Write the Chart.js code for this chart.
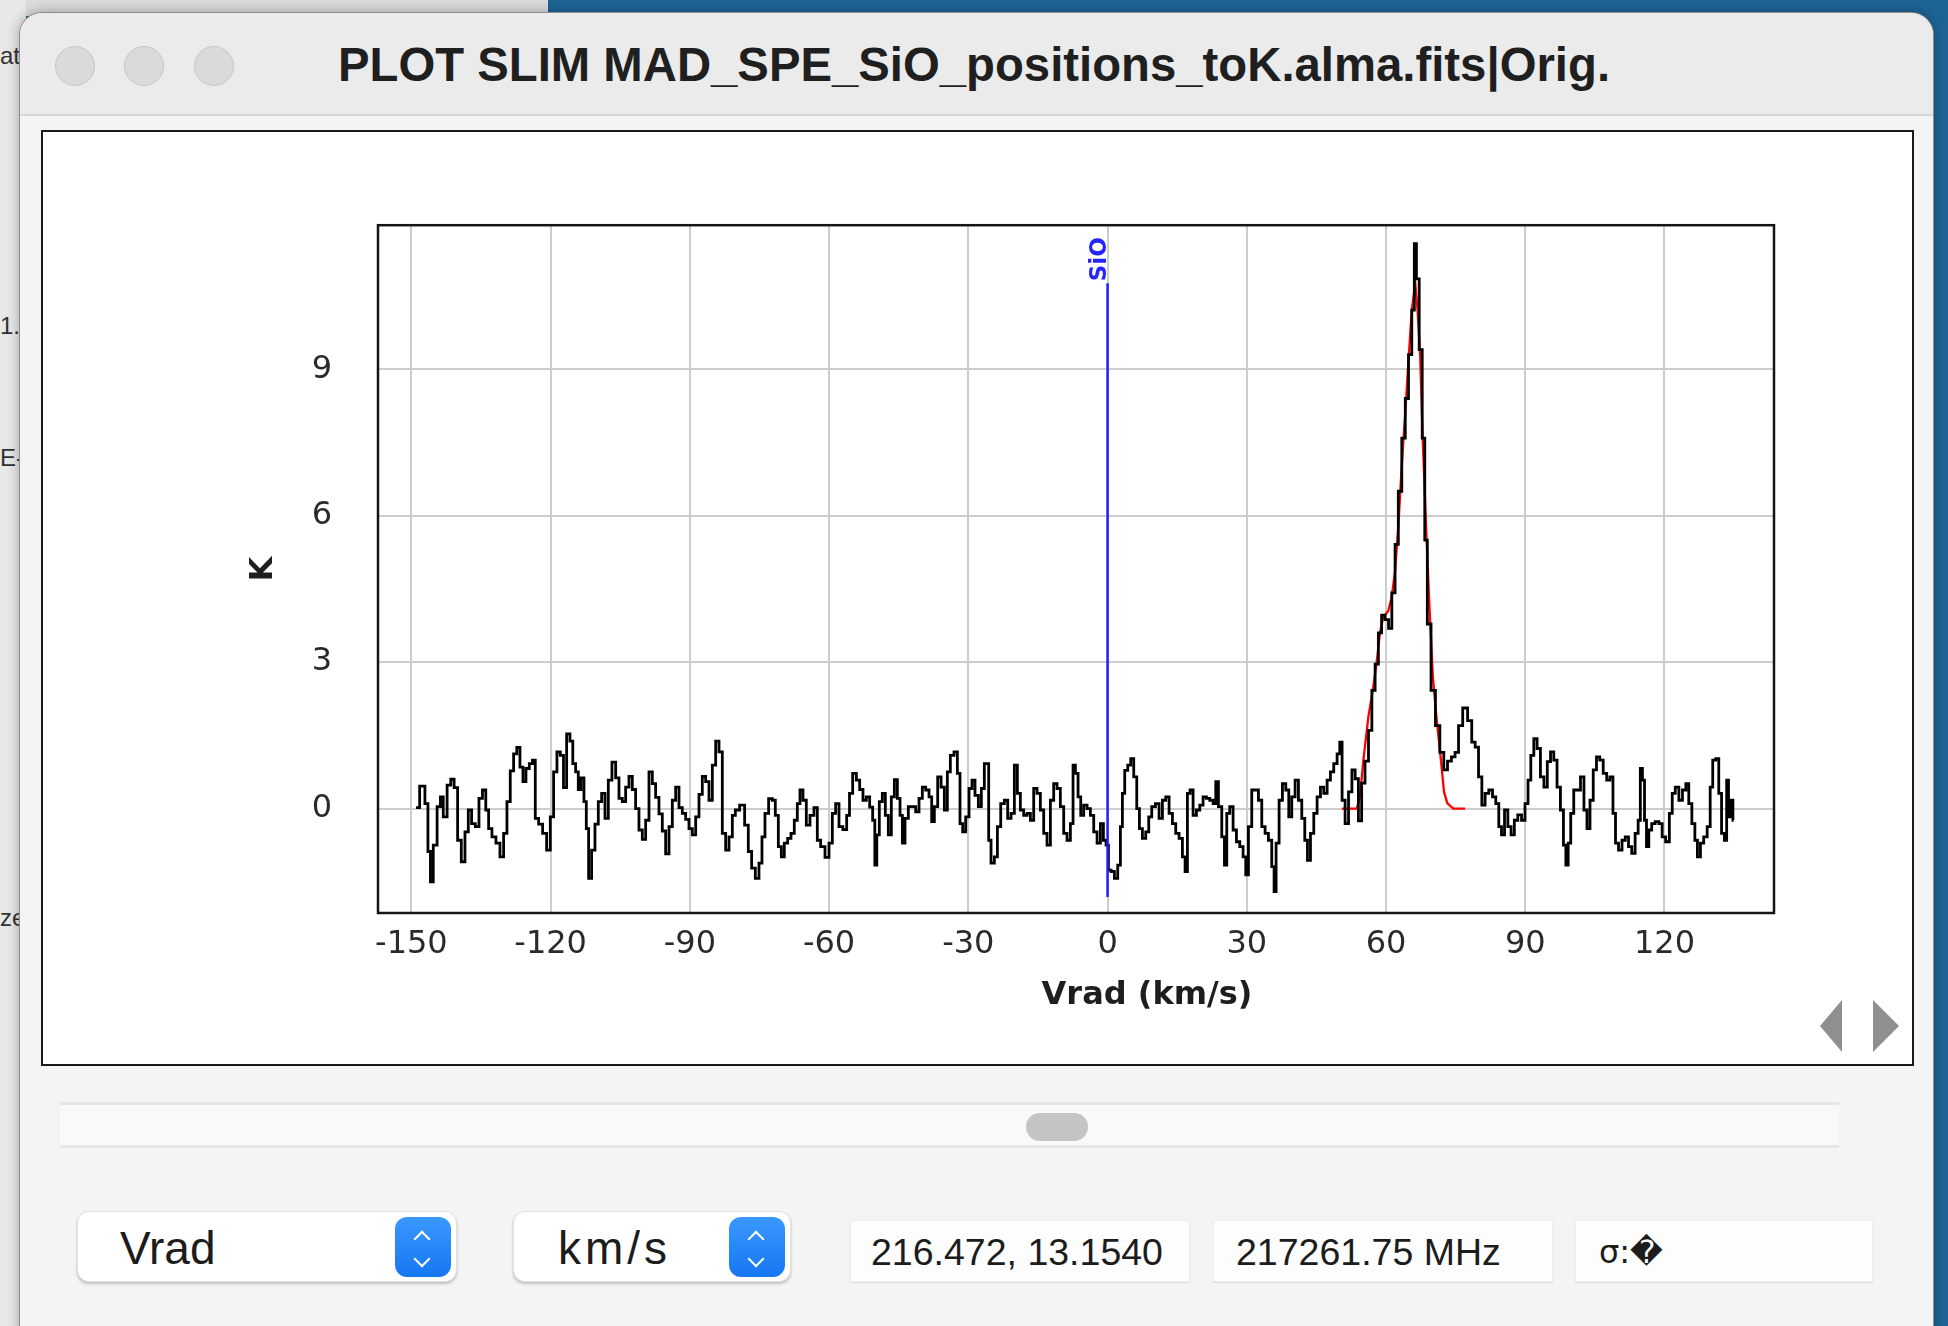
<!DOCTYPE html>
<html>
<head>
<meta charset="utf-8">
<title>PLOT SLIM MAD_SPE_SiO_positions_toK.alma.fits|Orig.</title>
<script src="https://cdn.jsdelivr.net/npm/chart.js@4.4.1/dist/chart.umd.min.js"></script>
<style>
  html, body { margin: 0; padding: 0; }
  body { width: 1948px; height: 1326px; overflow: hidden; position: relative; background: #1d6597; font-family: 'Liberation Sans', Arial, sans-serif; }
  .abs { position: absolute; box-sizing: border-box; }
  #deskTop { left: 0; top: 0; width: 548px; height: 16px; background: #dcdcdc; }
  #behind { left: 0; top: 0; width: 26px; height: 1326px; background: #e8e8e8; overflow: hidden; color: #333; font-size: 24px; }
  #behind span { position: absolute; left: 0; white-space: nowrap; }
  #win { left: 20px; top: 13px; width: 1913px; height: 1345px; background: #f4f4f4; border-radius: 22px; box-shadow: 0 0 0 1px #8d8d8d, 0 0 14px rgba(0,0,0,0.35); overflow: hidden; }
  #titlebar { left: 0; top: 0; width: 1913px; height: 103px; background: #ebebeb; border-bottom: 2px solid #d7d7d7; }
  .light { width: 40px; height: 40px; top: 46px; border-radius: 50%; background: #dadada; border: 1px solid #c6c6c6; }
  #title { left: 0; top: 42px; width: 1948px; text-align: center; font-weight: bold; font-size: 47.3px; line-height: 46px; color: #1f1f1f; white-space: nowrap; }
  #panel { left: 41px; top: 130px; width: 1873px; height: 936px; background: #fff; border: 2.5px solid #1a1a1a; }
  #plot { left: 180px; top: 160px; }
  #xTitle { left: 947px; width: 400px; top: 977px; text-align: center; font-family: 'DejaVu Sans', sans-serif; font-weight: bold; font-size: 32px; line-height: 32px; color: #1e1e1e; white-space: nowrap; }
  .arrowL { left: 1820px; top: 1000px; width: 0; height: 0; border-top: 26px solid transparent; border-bottom: 26px solid transparent; border-right: 22px solid #8f8f8f; }
  .arrowR { left: 1873px; top: 1000px; width: 0; height: 0; border-top: 26px solid transparent; border-bottom: 26px solid transparent; border-left: 26px solid #8f8f8f; }
  #track { left: 60px; top: 1102px; width: 1779px; height: 46px; background: #f9f9f9; border-top: 3px solid #e6e6e6; border-bottom: 3px solid #e6e6e6; }
  #thumb { left: 1026px; top: 1113px; width: 62px; height: 28px; border-radius: 14px; background: #c4c4c4; }
  .combo { top: 1211px; height: 71px; background: #fff; border-radius: 12px; border: 1px solid #e2e2e2; box-shadow: 0 2px 3px rgba(0,0,0,0.22); }
  .comboText { top: 1225px; font-size: 46px; line-height: 46px; color: #1c1c1c; white-space: nowrap; }
  .stepper { top: 1217px; width: 56px; height: 60px; border-radius: 12px; background: linear-gradient(#3a98ff, #1677f2); }
  .chev { width: 12px; height: 12px; border-left: 2.5px solid #fff; border-top: 2.5px solid #fff; }
  .field { top: 1220px; height: 62px; background: #fdfdfd; border: 1px solid #ededed; box-shadow: 0 1px 1px rgba(0,0,0,0.08); }
  .fieldText { top: 1234px; font-size: 37.5px; line-height: 37px; color: #1c1c1c; white-space: nowrap; }
</style>
</head>
<body>
<div class="abs" id="deskTop"></div>
<div class="abs" id="behind">
  <span style="top:42px">at</span>
  <span style="top:312px">1.</span>
  <span style="top:444px">E-</span>
  <span style="top:904px">ze</span>
</div>
<div class="abs" id="win"><div class="abs" id="titlebar"></div></div>
<div class="abs light" style="left:55px"></div>
<div class="abs light" style="left:124px"></div>
<div class="abs light" style="left:194px"></div>
<div class="abs" id="title">PLOT SLIM MAD_SPE_SiO_positions_toK.alma.fits|Orig.</div>

<div class="abs" id="panel"></div>
<canvas class="abs" id="plot" width="1640" height="880"></canvas>
<div class="abs" id="xTitle">Vrad (km/s)</div>
<div class="abs arrowL"></div>
<div class="abs arrowR"></div>

<div class="abs" id="track"></div>
<div class="abs" id="thumb"></div>

<div class="abs combo" style="left:77px;width:380px"></div>
<div class="abs comboText" style="left:120px">Vrad</div>
<div class="abs stepper" style="left:395px"></div>
<div class="abs chev" style="left:416px;top:1233px;transform:rotate(45deg)"></div>
<div class="abs chev" style="left:416px;top:1253px;transform:rotate(225deg)"></div>

<div class="abs combo" style="left:513px;width:278px"></div>
<div class="abs comboText" style="left:558px;letter-spacing:4px">km/s</div>
<div class="abs stepper" style="left:729px"></div>
<div class="abs chev" style="left:750px;top:1233px;transform:rotate(45deg)"></div>
<div class="abs chev" style="left:750px;top:1253px;transform:rotate(225deg)"></div>

<div class="abs field" style="left:850px;width:340px"></div>
<div class="abs fieldText" style="left:871px">216.472, 13.1540</div>
<div class="abs field" style="left:1213px;width:340px"></div>
<div class="abs fieldText" style="left:1236px">217261.75 MHz</div>
<div class="abs field" style="left:1575px;width:298px"></div>
<div class="abs fieldText" style="left:1599px;font-family:'DejaVu Sans',sans-serif;font-size:32px">σ:&#xFFFD;</div>

<script>
// Spectre (Vrad en km/s, intensité en K)
const velocity = [
  -149.0, -147.45, -146.73, -146.15, -145.65, -144.93, -144.0, -143.5, -142.78, -141.84,
  -141.2, -140.4, -139.69, -138.82, -138.1, -137.39, -136.67, -135.8, -135.09, -134.3,
  -133.65, -133.08, -132.22, -131.35, -130.49, -129.77, -129.06, -128.34, -127.62, -126.97,
  -126.25, -125.68, -124.96, -124.24, -123.6, -123.02, -122.16, -121.3, -120.43, -119.72,
  -119.0, -118.28, -117.56, -116.91, -116.2, -115.48, -114.97, -114.26, -113.83, -113.11,
  -112.53, -112.1, -111.53, -110.81, -110.09, -109.37, -108.65, -107.93, -107.22, -106.35,
  -105.63, -104.92, -104.2, -103.48, -102.76, -102.05, -101.33, -100.61, -99.89, -99.17,
  -98.45, -97.73, -97.02, -96.3, -95.58, -94.86, -94.14, -93.42, -92.7, -91.99,
  -91.27, -90.55, -89.83, -89.11, -88.39, -87.68, -86.96, -86.24, -85.52, -84.8,
  -84.08, -83.37, -82.65, -81.93, -81.21, -80.49,
  -79.92, -78.63, -77.77, -77.05, -76.33, -75.47, -74.75, -74.18, -73.46, -72.6,
  -71.88, -71.3, -70.58, -70.01, -69.29, -68.57, -67.86, -67.14, -66.56, -65.99,
  -65.27, -64.55, -63.69, -62.83, -62.25, -61.39, -60.38, -59.66, -58.95, -58.23,
  -57.51, -56.57, -55.86, -55.35, -54.49, -53.77, -53.06, -52.34, -51.62, -50.9,
  -50.33, -49.97, -49.47, -48.89, -48.17, -47.6, -46.88, -46.3, -45.58, -45.01,
  -44.43, -44.0, -43.29, -42.57, -41.71, -40.98, -40.27, -39.55, -38.83, -38.11,
  -37.68, -36.96, -36.24, -35.52, -34.81, -34.23, -33.52, -32.65, -32.08, -31.51,
  -30.93, -30.21, -29.49, -28.92, -28.2, -27.48, -26.91, -26.19, -25.76, -25.47,
  -24.75, -24.03, -23.45, -22.59, -21.88, -21.16, -20.44, -19.72, -19.15, -18.43,
  -17.71, -16.99, -16.27, -15.56, -14.84, -14.12, -13.4, -12.68, -11.96, -11.25,
  -10.53, -9.81, -9.09, -8.37, -7.65, -7.22,
  -6.64, -6.07, -5.49, -4.78, -4.06, -3.34, -2.62, -1.9, -1.18, -0.61,
  -0.03, 0.4, 1.12, 1.83, 2.55, 2.98, 3.41, 3.99, 4.71, 5.28,
  6.0, 6.58, 7.15, 7.87, 8.59, 9.16, 9.88, 10.74, 11.46, 12.18,
  12.9, 13.62, 14.33, 15.05, 15.77, 16.49, 16.92, 17.49, 18.07, 18.79,
  19.51, 20.23, 20.94, 21.66, 22.38, 23.1, 23.53, 24.25, 24.97, 25.4,
  25.97, 26.69, 27.41, 28.13, 28.85, 29.56, 30.0, 30.71, 31.43, 32.15,
  32.87, 33.59, 34.3, 35.02, 35.74, 36.03, 36.6, 37.32, 38.04, 38.76,
  39.33, 40.05, 40.77, 41.49, 42.21, 42.78, 43.36, 44.08, 44.79, 45.51,
  46.23, 46.95, 47.67, 48.38, 49.1, 49.82, 50.25, 50.82, 51.55,
  52.3, 53.0, 53.7, 54.4, 55.1, 55.85, 56.6, 57.3, 58.0, 58.7,
  59.4, 60.2, 60.9, 61.6, 62.3, 63.0, 63.8, 64.5, 65.2, 65.9,
  66.3, 66.8, 67.5, 68.1, 68.6, 69.2, 70.2, 71.1, 72.1, 72.8,
  73.7, 74.5, 75.25, 76.0, 77.05, 78.1, 78.85, 79.57, 80.3,
  81.0, 81.7, 82.6, 83.3, 84.0, 84.6, 85.17, 85.9, 86.6, 87.3,
  88.0, 88.8, 89.6, 90.3, 90.9, 91.5, 92.2, 92.9, 93.65, 94.4,
  95.1, 95.8, 96.5, 97.2, 97.96, 98.5, 99.0, 99.5, 100.1, 100.8,
  101.5, 102.3, 103.0, 103.6, 104.3, 105.0, 105.7, 106.4, 107.2, 107.9,
  108.6, 109.2, 109.7, 110.5, 111.2, 111.9, 112.6, 113.3, 114.05, 114.6,
  115.0, 115.5, 115.9, 116.35, 116.9, 117.6, 118.4, 119.2, 119.8, 120.7,
  121.4, 121.95, 122.7, 123.5, 124.25, 124.97, 125.5, 126.3, 126.8, 127.4,
  128.1, 128.8, 129.6, 130.1, 130.7, 131.4, 132.0, 132.6, 133.2, 133.6,
  134.0, 134.6, 134.9
];
const intensity = [
  0.02, 0.46, 0.10, -0.88, -1.50, -0.75, 0.04, 0.24, -0.17, 0.48,
  0.60, 0.43, -0.65, -1.09, -0.48, -0.03, -0.31, -0.37, 0.21, 0.38,
  -0.03, -0.41, -0.58, -0.71, -0.99, -0.51, 0.14, 0.77, 1.12, 1.25,
  0.85, 0.55, 0.82, 0.92, 0.99, -0.20, -0.32, -0.51, -0.85, -0.17,
  0.75, 1.16, 1.09, 0.43, 1.53, 1.38, 0.92, 0.75, 0.39, 0.63,
  0.14, -0.41, -1.43, -0.85, -0.32, 0.14, 0.31, -0.20, 0.58, 0.95,
  0.63, 0.21, 0.14, 0.44, 0.66, 0.39, 0.0, -0.44, -0.63, -0.24,
  0.75, 0.51, 0.23, -0.11, -0.46, -0.93, -0.37, 0.17, 0.44, 0.02,
  -0.10, -0.22, -0.41, -0.54, -0.17, 0.29, 0.66, 0.55, 0.17, 0.89,
  1.38, 1.16, -0.51, -0.85, -0.58, -0.14,
  -0.03, 0.07, -0.34, -0.88, -1.22, -1.43, -1.12, -0.58, -0.10, 0.20,
  0.17, -0.14, -0.78, -0.99, -0.71, -0.61, -0.51, -0.24, 0.10, 0.38,
  0.17, -0.34, -0.14, 0.02, -0.65, -0.78, -1.00, -0.71, -0.10, 0.10,
  -0.37, -0.43, -0.14, 0.31, 0.72, 0.58, 0.39, 0.17, 0.24, 0.03,
  -0.24, -1.16, -0.54, 0.14, 0.31, -0.14, -0.54, 0.24, 0.59, 0.21,
  -0.14, -0.71, -0.20, 0.04, 0.04, -0.07, 0.21, 0.44, 0.38, 0.24,
  -0.27, 0.04, 0.65, 0.44, -0.03, 0.75, 1.09, 1.16, 0.72, -0.31,
  -0.48, -0.17, 0.41, 0.58, 0.27, 0.04, 0.41, 0.92, 0.92, -0.65,
  -1.12, -0.99, -0.37, 0.10, 0.17, -0.20, -0.10, 0.89, 0.31, -0.03,
  -0.14, -0.10, -0.24, 0.41, 0.31, -0.03, -0.51, -0.75, 0.17, 0.51,
  0.41, 0.04, -0.51, -0.65, -0.31, 0.89,
  0.72, 0.24, -0.14, 0.07, 0.0, -0.14, -0.48, -0.71, -0.31, -0.65,
  -0.75, -1.26, -1.29, -1.43, -1.16, -0.37, 0.31, 0.78, 0.89, 1.02,
  0.65, 0.0, -0.41, -0.61, -0.48, -0.17, 0.04, 0.10, -0.20, 0.17,
  0.24, -0.10, -0.31, -0.51, -0.61, -0.99, -1.29, 0.31, 0.38, -0.14,
  -0.03, 0.07, 0.24, 0.21, 0.17, 0.10, 0.55, 0.04, -0.58, -1.16,
  -0.10, 0.04, -0.44, -0.68, -0.78, -0.99, -1.36, -0.37, 0.38, 0.38,
  0.17, -0.37, -0.51, -0.65, -1.19, -1.70, -0.71, 0.17, 0.51, 0.38,
  -0.17, 0.24, 0.58, 0.17, -0.20, -0.65, -1.06, -0.51, -0.10, 0.24,
  0.44, 0.31, 0.58, 0.75, 0.92, 1.12, 1.36, 0.17, -0.31,
  0.34, 0.79, 0.61, -0.25, 0.52, 0.97, 1.6, 2.42, 2.96, 3.6,
  3.96, 3.87, 3.69, 4.42, 5.41, 6.5, 7.59, 8.4, 9.3, 10.21,
  11.57, 10.85, 9.4, 7.59, 5.5, 3.78, 2.42, 1.7, 1.15, 0.79,
  0.97, 1.06, 1.15, 1.7, 2.06, 1.8, 1.36, 1.26, 0.65,
  0.07, 0.31, 0.38, 0.24, 0.10, -0.37, -0.54, -0.03, -0.37, -0.54,
  -0.24, -0.13, -0.24, 0.10, 0.58, 1.09, 1.43, 1.23, 0.65, 0.44,
  0.96, 1.16, 0.99, 0.44, -0.03, -0.75, -1.16, -0.71, -0.10, 0.38,
  0.38, 0.65, -0.03, -0.41, 0.17, 0.79, 1.06, 0.99, 0.72, 0.58,
  0.65, -0.10, -0.71, -0.85, -0.65, -0.58, -0.78, -0.92, -0.51, -0.24,
  0.82, 0.58, -0.24, -0.78, -0.44, -0.31, -0.27, -0.31, -0.58, -0.68,
  -0.10, 0.31, 0.44, 0.17, 0.38, 0.51, 0.10, -0.31, -0.65, -0.99,
  -0.71, -0.58, -0.37, 0.44, 0.99, 1.02, 0.31, -0.51, -0.65, 0.58,
  -0.17, 0.17, -0.24
];

// Ajustement (courbe rouge)
const fitVelocity = [
  50.5, 53.7, 54.4, 55.1, 56.2, 57.15, 58.0, 58.7, 59.4, 60.5,
  61.2, 61.96, 62.7, 63.4, 64.1, 64.8, 65.55, 66.3, 66.8, 67.35,
  67.9, 68.6, 69.4, 70.1, 70.95, 71.8, 72.5, 73.2, 74.5, 77.05
];
const fitIntensity = [
  0.0, 0.0, 0.25, 0.97, 1.88, 2.42, 3.01, 3.6, 3.92, 4.05,
  4.32, 4.87, 5.86, 7.04, 8.04, 9.12, 10.21, 10.76, 10.21, 9.3,
  7.59, 5.86, 4.05, 2.69, 1.79, 1.02, 0.34, 0.11, 0.0, 0.0
];

// Raie SiO (repère bleu)
const lineName = 'SiO';
const lineVelocity = [0, 0];
const lineIntensity = [-1.81, 10.76];

// Axes
const xTicks = [-150, -120, -90, -60, -30, 0, 30, 60, 90, 120];
const yTicks = [0, 3, 6, 9];
const xRange = [-157.2, 143.6];
const yRange = [-2.14, 11.95];

const toPoints = (xs, ys) => xs.map((x, i) => ({x: x, y: ys[i]}));

const framePlugin = {
  id: 'frame',
  afterDraw: (chart) => {
    const ctx = chart.ctx;
    const a = chart.chartArea;
    ctx.save();
    ctx.strokeStyle = '#151515';
    ctx.lineWidth = 2.5;
    ctx.strokeRect(a.left, a.top, a.right - a.left, a.bottom - a.top);
    ctx.restore();
  }
};

const lineLabelPlugin = {
  id: 'lineLabel',
  afterDatasetsDraw: (chart) => {
    const ctx = chart.ctx;
    const x = chart.scales.x.getPixelForValue(lineVelocity[1]);
    const y = chart.scales.y.getPixelForValue(lineIntensity[1]);
    ctx.save();
    ctx.translate(x - 1.5, y - 2);
    ctx.rotate(-Math.PI / 2);
    ctx.fillStyle = '#2424ff';
    ctx.font = 'bold 23px "DejaVu Sans"';
    ctx.textAlign = 'left';
    ctx.textBaseline = 'alphabetic';
    ctx.fillText(lineName, 0, 0);
    ctx.restore();
  }
};

const tickFont = {family: 'DejaVu Sans', size: 32};
const gridStyle = {color: '#cdcdcd', lineWidth: 2, drawTicks: false};

new Chart(document.getElementById('plot').getContext('2d'), {
  type: 'scatter',
  data: {
    datasets: [
      {
        data: toPoints(lineVelocity, lineIntensity),
        showLine: true,
        borderColor: '#1f1fff',
        borderWidth: 2.5,
        pointRadius: 0
      },
      {
        data: toPoints(velocity, intensity),
        showLine: true,
        stepped: 'middle',
        borderColor: '#000000',
        borderWidth: 2.8,
        pointRadius: 0
      },
      {
        data: toPoints(fitVelocity, fitIntensity),
        showLine: true,
        borderColor: '#ff0000',
        borderWidth: 2.3,
        pointRadius: 0
      }
    ]
  },
  options: {
    responsive: false,
    devicePixelRatio: 1,
    animation: false,
    layout: {padding: {left: 0, top: 63.6, right: 46, bottom: 0}},
    plugins: {legend: {display: false}, tooltip: {enabled: false}},
    scales: {
      x: {
        type: 'linear',
        min: xRange[0],
        max: xRange[1],
        afterBuildTicks: (axis) => { axis.ticks = xTicks.map(v => ({value: v})); },
        afterFit: (axis) => { axis.height = 127; },
        ticks: {font: tickFont, color: '#2a2a2a', padding: 12, maxRotation: 0, autoSkip: false},
        grid: gridStyle,
        border: {display: false}
      },
      y: {
        type: 'linear',
        min: yRange[0],
        max: yRange[1],
        afterBuildTicks: (axis) => { axis.ticks = yTicks.map(v => ({value: v})); },
        afterFit: (axis) => { axis.width = 198; },
        ticks: {font: tickFont, color: '#2a2a2a', padding: 46},
        grid: gridStyle,
        border: {display: false},
        title: {
          display: true,
          text: 'K',
          color: '#1e1e1e',
          font: {family: 'DejaVu Sans', size: 32, weight: 'bold'},
          padding: {top: 64, bottom: 0}
        }
      }
    }
  },
  plugins: [framePlugin, lineLabelPlugin]
});
</script>
</body>
</html>
